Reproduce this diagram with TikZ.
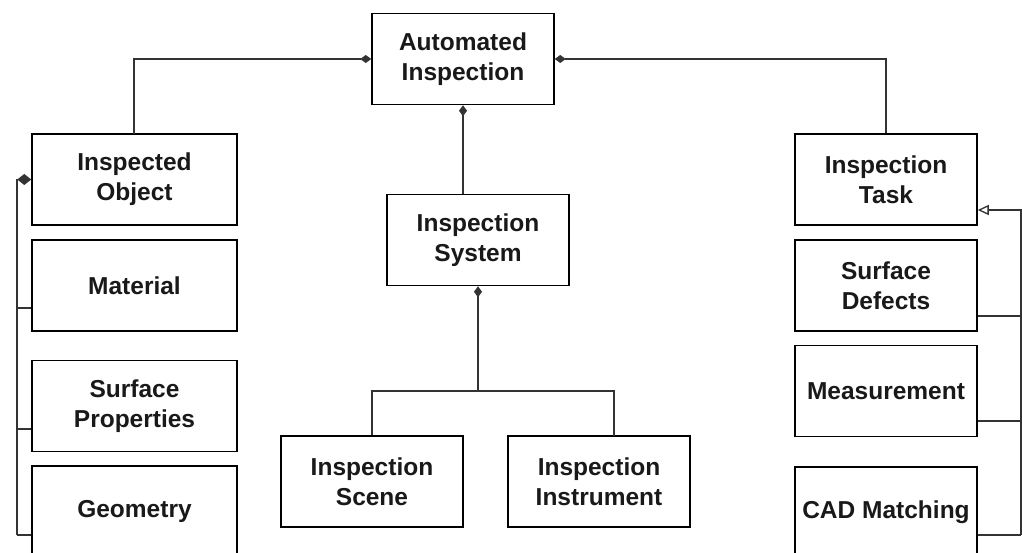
\documentclass[tikz,border=0pt]{standalone}
\usepackage{fontspec}
\setmainfont{Liberation Sans}
\usetikzlibrary{arrows.meta}
\begin{document}
\begin{tikzpicture}[x=1pt,y=-1pt,
  box/.style={draw=black,line width=1.5pt,minimum width=182pt,minimum height=91pt,
    inner sep=0pt,align=center,font=\bfseries\fontsize{24.5}{30}\selectfont,text=black!90},
  wide/.style={box,minimum width=205pt},
  link/.style={draw=black!80,line width=1.3pt},
  comp/.style={link,{Diamond[length=11pt,width=8pt]}-},
  bigcomp/.style={link,{Diamond[length=14pt,width=11pt]}-},
  gen/.style={link,{Triangle[open,length=11pt,width=10pt,line width=1.3pt]}-}]
\useasboundingbox (0,0) rectangle (1022,553);
\clip (0,0) rectangle (1022,553);
\fill[white] (0,0) rectangle (1022,553);
% nodes
\node[box]  (auto)   at (463,59)    {Automated\\Inspection};
\node[wide] (obj)    at (134.5,179.5) {Inspected\\Object};
\node[wide] (mat)    at (134.5,285.5) {Material};
\node[wide] (surfp)  at (134.5,406) {Surface\\Properties};
\node[wide] (geom)   at (134.5,511.5) {Geometry};
\node[box]  (sys)    at (478,240)   {Inspection\\System};
\node[box]  (scene)  at (372,481.5) {Inspection\\Scene};
\node[box]  (instr)  at (599,481.5) {Inspection\\Instrument};
\node[box]  (task)   at (886,179.5) {Inspection\\Task};
\node[box]  (defects) at (886,285.5) {Surface\\Defects};
\node[box]  (meas)   at (886,391)   {Measurement};
\node[box]  (cad)    at (886,512.5) {CAD Matching};
% helper coordinates
\coordinate (lbus) at (17,179.5);
\coordinate (rbus) at (1021,210);
\coordinate (sysj) at (478,391);
% top-level composition
\draw[comp] (auto.west) -| (134,134);
\draw[comp] (auto.east) -| (task.north);
\draw[comp] (auto.south -| 463,0) -- (463,194);
% system composition
\draw[comp] (sys.south) -- (sysj);
\draw[link] (scene.north) |- (sysj) -| (614,436);
% left bus
\draw[bigcomp] (obj.west) -- (lbus) -- (17,535);
\draw[link] (17,308) -- (mat.west |- 0,308);
\draw[link] (17,429) -- (surfp.west |- 0,429);
\draw[link] (17,535) -- (geom.west |- 0,535);
% right bus
\draw[gen] (task.east |- rbus) -- (rbus) -- (1021,535);
\draw[link] (defects.east |- 0,316) -- (1021,316);
\draw[link] (meas.east |- 0,421) -- (1021,421);
\draw[link] (cad.east |- 0,535) -- (1021,535);
\end{tikzpicture}
\end{document}
